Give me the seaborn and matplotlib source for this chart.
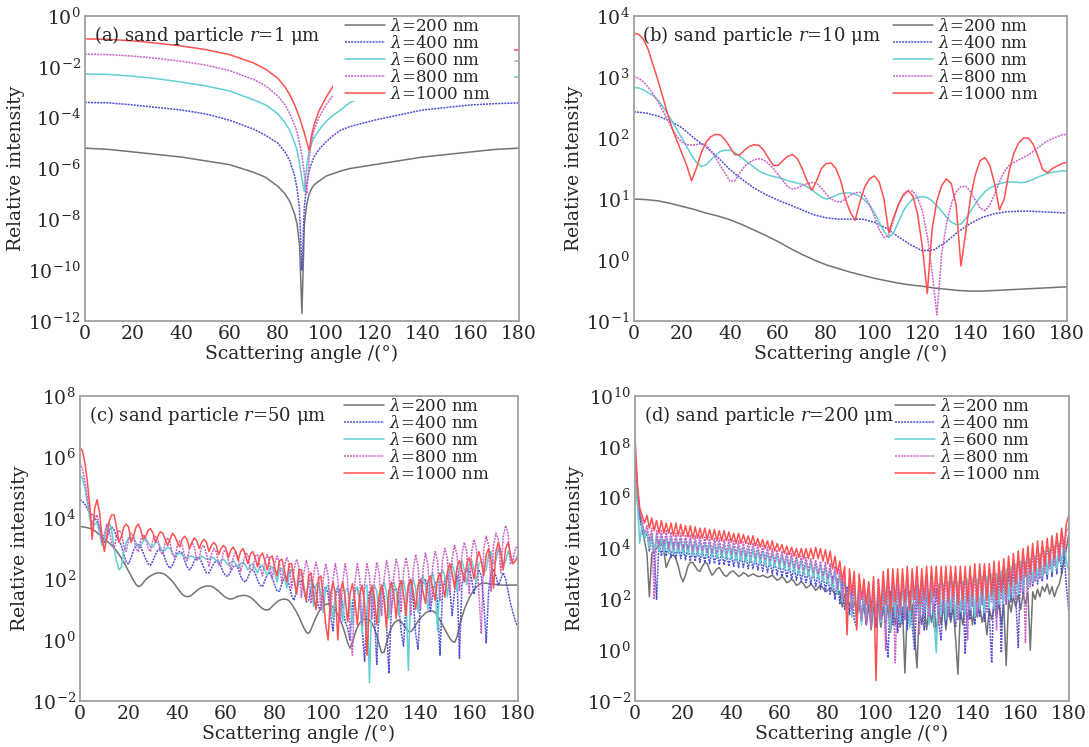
import numpy as np
import pandas as pd
import matplotlib
matplotlib.use('Agg')
import matplotlib.pyplot as plt
from matplotlib.patches import Rectangle
from matplotlib.ticker import NullLocator
import seaborn as sns

# wavelengths in nm, values below are log10(relative intensity)
wavelengths = ['200', '400', '600', '800', '1000']

# ---- (a) r = 1 um ----
ang_a = [0, 10, 20, 30, 40, 50, 60, 70, 75, 80, 83, 85, 87, 88, 89, 90, 91, 92, 93, 94, 95,
         97, 100, 103, 106, 110, 120, 130, 140, 150, 160, 170, 180]
a_200 = [-5.2, -5.25, -5.35, -5.45, -5.55, -5.7, -5.85, -6.15, -6.35, -6.7, -7.0, -7.3, -7.8, -8.2,
         -9.0, -11.7, -8.2, -7.4, -7.0, -6.8, -6.65, -6.5, -6.3, -6.2, -6.1, -6.0, -5.85, -5.7,
         -5.55, -5.45, -5.35, -5.25, -5.2]
a_400 = [-3.4, -3.42, -3.5, -3.6, -3.7, -3.85, -4.1, -4.45, -4.7, -5.0, -5.35, -5.7, -6.3, -6.8,
         -7.6, -10.0, -7.5, -6.6, -6.1, -5.8, -5.55, -5.25, -4.95, -4.7, -4.5, -4.35, -4.1, -3.9,
         -3.7, -3.6, -3.5, -3.45, -3.42]
a_600 = [-2.28, -2.3, -2.37, -2.47, -2.6, -2.75, -2.95, -3.3, -3.5, -3.85, -4.2, -4.5, -5.0, -5.3,
         -5.8, -6.4, -6.9, -5.9, -5.3, -5.0, -4.8, -4.5, -4.15, -3.9, -3.7, -3.4, -3.0, -2.8,
         -2.65, -2.55, -2.47, -2.42, -2.4]
a_800 = [-1.5, -1.52, -1.58, -1.67, -1.78, -1.93, -2.15, -2.5, -2.75, -3.15, -3.5, -3.85, -4.3, -4.6,
         -5.0, -5.5, -6.2, -7.0, -5.6, -4.9, -4.5, -4.0, -3.5, -3.1, -2.85, -2.6, -2.25, -2.05,
         -1.95, -1.87, -1.82, -1.79, -1.77]
a_1000 = [-0.9, -0.92, -0.98, -1.07, -1.18, -1.32, -1.52, -1.85, -2.1, -2.45, -2.8, -3.1, -3.5, -3.75,
          -4.0, -4.3, -4.6, -4.95, -5.3, -4.7, -4.3, -3.75, -3.2, -2.75, -2.45, -2.2, -1.85, -1.65,
          -1.55, -1.45, -1.4, -1.36, -1.34]

# ---- (b) r = 10 um ----
ang_b5 = list(range(0, 181, 5))
b_200 = [1.0, 0.99, 0.97, 0.93, 0.88, 0.83, 0.77, 0.72, 0.66, 0.58, 0.49, 0.4, 0.3, 0.19, 0.09, 0.0,
         -0.08, -0.14, -0.2, -0.25, -0.3, -0.34, -0.38, -0.41, -0.43, -0.46, -0.48, -0.5, -0.51,
         -0.51, -0.5, -0.49, -0.48, -0.47, -0.46, -0.45, -0.44]
b_400 = [2.43, 2.41, 2.36, 2.28, 2.17, 2.0, 1.85, 1.68, 1.48, 1.32, 1.18, 1.07, 0.98, 0.9, 0.82, 0.74,
         0.69, 0.67, 0.67, 0.67, 0.62, 0.52, 0.38, 0.25, 0.15, 0.17, 0.3, 0.47, 0.6, 0.7, 0.76, 0.79,
         0.8, 0.8, 0.79, 0.78, 0.77]
ang_b2 = list(range(0, 181, 2))
b_600 = [2.83, 2.82, 2.79, 2.74, 2.7, 2.62, 2.52, 2.4, 2.27, 2.13,
         2.0, 1.86, 1.72, 1.6, 1.53, 1.56, 1.64, 1.72, 1.78, 1.8,
         1.8, 1.76, 1.7, 1.64, 1.58, 1.52, 1.46, 1.42, 1.39, 1.37,
         1.35, 1.33, 1.3, 1.28, 1.26, 1.24, 1.2, 1.15, 1.09, 1.03,
         1.0, 1.02, 1.06, 1.09, 1.1, 1.1, 1.08, 1.04, 0.98, 0.9,
         0.78, 0.62, 0.47, 0.37, 0.45, 0.62, 0.8, 0.92, 1.0, 1.03,
         1.04, 1.02, 0.97, 0.89, 0.8, 0.7, 0.62, 0.58, 0.59, 0.68,
         0.8, 0.92, 1.03, 1.12, 1.18, 1.22, 1.25, 1.27, 1.28, 1.28,
         1.27, 1.27, 1.29, 1.32, 1.36, 1.39, 1.42, 1.44, 1.45, 1.46,
         1.46]
b_800 = [3.0, 2.98, 2.92, 2.83, 2.72, 2.6, 2.45, 2.3, 2.15, 2.02,
         1.93, 1.89, 1.88, 1.89, 1.91, 1.88, 1.8, 1.68, 1.54, 1.42,
         1.29, 1.3, 1.42, 1.53, 1.6, 1.64, 1.66, 1.64, 1.58, 1.5,
         1.4, 1.3, 1.2, 1.16, 1.18, 1.22, 1.25, 1.27, 1.26, 1.18,
         1.08, 1.0, 0.96, 0.95, 1.0, 1.06, 1.1, 1.11, 1.05, 0.9,
         0.72, 0.5, 0.37, 0.4, 0.65, 0.92, 1.05, 1.12, 1.13, 1.02,
         0.8, 0.4, -0.2, -0.9, 0.1, 0.6, 0.92, 1.12, 1.2, 1.21,
         1.12, 0.98, 0.85, 0.81, 0.9, 1.08, 1.28, 1.45, 1.55, 1.6,
         1.64, 1.68, 1.72, 1.78, 1.84, 1.9, 1.95, 1.99, 2.02, 2.05,
         2.06]
b_1000 = [3.72, 3.7, 3.62, 3.45, 3.2, 2.95, 2.68, 2.4, 2.15, 1.95,
          1.75, 1.55, 1.3, 1.5, 1.75, 1.93, 2.02, 2.06, 2.05, 1.97,
          1.85, 1.73, 1.72, 1.8, 1.86, 1.89, 1.88, 1.8, 1.67, 1.55,
          1.55, 1.63, 1.7, 1.73, 1.66, 1.5, 1.3, 1.14, 1.3, 1.5,
          1.58, 1.59, 1.5, 1.3, 1.0, 0.78, 0.65, 0.95, 1.2, 1.33,
          1.38, 1.28, 1.0, 0.45, 0.7, 0.9, 1.07, 1.14, 1.05, 0.75,
          0.2, -0.55, 0.5, 0.97, 1.22, 1.33, 1.25, 0.9, -0.1, 0.45,
          1.03, 1.4, 1.63, 1.68, 1.55, 1.25, 0.82, 1.0, 1.45, 1.75,
          1.92, 2.0, 2.0, 1.9, 1.7, 1.48, 1.43, 1.5, 1.54, 1.58,
          1.6]

# ---- (c) r = 50 um, read every 1 degree ----
ang_cd = list(range(0, 181))
c_200 = [3.72, 3.71, 3.7, 3.68, 3.66, 3.63, 3.58, 3.52, 3.45, 3.38,
         3.32, 3.25, 3.18, 3.1, 3.02, 2.92, 2.8, 2.68, 2.55, 2.4,
         2.25, 2.1, 1.95, 1.82, 1.75, 1.78, 1.88, 1.98, 2.05, 2.1,
         2.15, 2.18, 2.2, 2.2, 2.18, 2.14, 2.08, 2.0, 1.92, 1.82,
         1.7, 1.6, 1.5, 1.44, 1.42, 1.43, 1.48, 1.55, 1.62, 1.68,
         1.72, 1.75, 1.77, 1.77, 1.76, 1.72, 1.66, 1.6, 1.52, 1.45,
         1.39, 1.35, 1.34, 1.36, 1.4, 1.43, 1.45, 1.46, 1.46, 1.44,
         1.4, 1.34, 1.27, 1.18, 1.1, 1.03, 0.99, 0.98, 1.02, 1.1,
         1.18, 1.25, 1.3, 1.33, 1.34, 1.33, 1.28, 1.18, 1.05, 0.92,
         0.76, 0.58, 0.4, 0.26, 0.21, 0.35, 0.55, 0.74, 0.9, 1.03,
         1.12, 1.17, 1.18, 1.15, 1.08, 0.98, 0.84, 0.66, 0.45, 0.2,
         -0.08, -0.27, -0.1, 0.2, 0.42, 0.56, 0.65, 0.69, 0.69, 0.65,
         0.55, 0.38, 0.15, -0.15, -0.42, -0.4, -0.1, 0.18, 0.4, 0.54,
         0.62, 0.65, 0.6, 0.5, 0.38, 0.28, 0.27, 0.36, 0.5, 0.62,
         0.72, 0.8, 0.88, 0.93, 0.96, 0.95, 0.9, 0.8, 0.66, 0.5,
         0.35, 0.2, 0.06, -0.04, -0.08, 0.1, 0.45, 0.75, 1.0, 1.2,
         1.38, 1.52, 1.64, 1.74, 1.81, 1.85, 1.86, 1.86, 1.85, 1.84,
         1.83, 1.82, 1.81, 1.8, 1.8, 1.8, 1.8, 1.8, 1.8, 1.8,
         1.8]
c_400 = [4.6, 4.55, 4.45, 4.3, 4.2, 4.1, 4.0, 3.9, 3.7, 3.4,
         3.2, 3.3, 3.6, 3.7, 3.6, 3.4, 3.25, 3.1, 2.8, 2.55,
         2.5, 2.7, 2.95, 3.1, 3.15, 3.05, 2.85, 2.65, 2.5, 2.45,
         2.6, 2.8, 2.95, 3.0, 2.9, 2.65, 2.45, 2.35, 2.45, 2.65,
         2.85, 2.9, 2.85, 2.6, 2.4, 2.3, 2.4, 2.6, 2.7, 2.7,
         2.55, 2.35, 2.2, 2.2, 2.35, 2.5, 2.6, 2.55, 2.4, 2.2,
         2.1, 2.1, 2.25, 2.4, 2.45, 2.35, 2.1, 1.95, 1.9, 2.05,
         2.25, 2.3, 2.2, 1.95, 1.8, 1.75, 1.95, 2.15, 2.2, 2.05,
         1.8, 1.6, 1.6, 1.85, 2.05, 2.05, 1.8, 1.45, 1.3, 1.6,
         1.9, 1.95, 1.65, 1.25, 1.3, 1.7, 1.8, 1.6, 1.1, 1.0,
         1.6, 1.75, 1.5, 0.8, 0.3, 1.4, 1.7, 1.6, 1.1, 0.6,
         0.4, 0.0, 1.2, 1.6, 1.7, 1.3, 0.4, -0.7, 1.0, 1.6,
         1.6, 0.9, -0.8, 1.2, 1.7, 1.5, 0.5, -1.1, 1.0, 1.6,
         1.7, 1.2, 0.3, -0.2, 1.2, 1.8, 1.9, 1.3, 0.2, -0.3,
         1.3, 1.9, 2.0, 1.6, 0.9, 1.5, 1.9, 1.2, -0.5, 1.5,
         2.0, 2.1, 1.7, 0.8, 1.6, 2.1, -0.6, 1.8, 2.2, 2.3,
         2.3, 2.0, 1.5, 2.0, 2.3, 2.1, 1.2, -0.1, 1.6, 2.2,
         2.3, 2.1, 1.8, 2.0, 2.2, 2.0, 1.6, 1.2, 0.9, 0.6,
         0.45]
c_600 = [5.4, 5.3, 5.0, 4.5, 4.0, 3.6, 3.8, 3.85, 3.5, 3.1,
         3.3, 3.7, 3.85, 3.6, 3.0, 2.6, 2.3, 2.4, 2.9, 3.2,
         3.35, 3.35, 3.35, 3.2, 3.05, 3.1, 3.25, 3.3, 3.2, 3.05,
         3.05, 3.2, 3.2, 3.05, 2.9, 2.95, 3.05, 3.0, 2.85, 2.75,
         2.8, 2.85, 2.8, 2.7, 2.7, 2.75, 2.75, 2.7, 2.65, 2.7,
         2.75, 2.7, 2.65, 2.65, 2.7, 2.7, 2.6, 2.55, 2.6, 2.65,
         2.55, 2.45, 2.55, 2.6, 2.5, 2.4, 2.5, 2.55, 2.45, 2.3,
         2.45, 2.5, 2.35, 2.2, 2.4, 2.45, 2.3, 2.1, 2.35, 2.4,
         2.2, 1.9, 2.3, 2.35, 2.1, 1.7, 2.2, 2.3, 2.0, 1.5,
         2.1, 2.2, 1.8, 1.3, 1.9, 2.0, 1.1, 1.8, 1.9, 1.5,
         0.9, 1.7, 1.8, 1.3, 0.7, 1.6, 1.75, 1.3, 0.6, 1.6,
         1.7, 1.3, 0.5, 1.6, 1.75, 1.3, 0.2, 1.7, 1.8, -1.4,
         1.5, 1.8, 1.6, 0.6, 1.7, 1.9, 1.6, 0.7, 1.8, 1.9,
         1.6, 0.8, 1.8, 1.95, 1.5, -1.0, 1.8, 2.0, 1.7, 0.9,
         1.9, 2.1, 1.8, 1.0, 2.0, 2.2, 1.8, 0.3, 2.0, 2.3,
         2.1, 1.4, 2.3, 2.5, 2.2, 1.6, 2.4, 2.6, 2.3, 1.8,
         2.5, 2.6, 2.3, 1.9, 2.5, 2.6, 2.2, 2.3, 2.8, 2.9,
         2.5, 2.6, 3.0, 2.8, 2.4, 2.6, 2.9, 2.7, 2.5, 2.6,
         2.8]
c_800 = [5.8, 5.6, 5.2, 4.7, 4.2, 3.8, 4.0, 4.1, 3.7, 3.2,
         3.5, 3.8, 3.6, 3.2, 3.0, 3.4, 3.6, 3.5, 3.1, 2.9,
         3.3, 3.5, 3.4, 3.0, 2.9, 3.3, 3.45, 3.35, 3.0, 2.9,
         3.3, 3.4, 3.3, 2.9, 2.8, 3.2, 3.35, 3.2, 2.8, 2.7,
         3.1, 3.25, 3.1, 2.75, 2.6, 3.0, 3.2, 3.05, 2.6, 2.7,
         3.05, 3.1, 2.8, 2.4, 2.8, 3.0, 2.9, 2.45, 2.5, 2.9,
         2.95, 2.6, 2.3, 2.7, 2.9, 2.7, 2.25, 2.5, 2.85, 2.8,
         2.3, 2.3, 2.75, 2.8, 2.4, 2.1, 2.6, 2.8, 2.5, 2.0,
         2.5, 2.75, 2.5, 1.9, 2.4, 2.7, 2.5, 1.7, 2.3, 2.65,
         2.4, 1.4, 2.2, 2.6, 2.3, 1.2, 2.1, 2.55, 2.2, 1.0,
         2.0, 2.5, 2.1, 0.8, 2.0, 2.5, 2.0, 0.6, 1.9, 2.5,
         2.0, 0.3, -0.5, 1.9, 2.5, 2.0, 0.5, 1.8, 2.5, 2.1,
         0.7, 1.9, 2.55, 2.2, 0.8, 2.0, 2.6, 2.2, 0.9, 2.1,
         2.65, 2.3, 0.9, 2.2, 2.7, 2.3, 0.8, 2.3, 2.8, 2.4,
         1.0, 2.3, 2.85, 2.5, 1.2, 2.4, 2.9, 2.6, 1.3, 2.6,
         3.0, 2.7, 1.5, 2.7, 3.1, 2.8, 1.6, 2.8, 3.2, 2.9,
         1.5, 2.9, 3.3, 3.0, 1.5, 0.2, 3.0, 3.4, 3.1, 1.6,
         3.1, 3.5, 3.3, 2.2, 3.4, 3.75, 3.5, 2.5, 2.6, 3.0,
         3.1]
c_1000 = [6.3, 6.2, 5.8, 5.2, 4.4, 3.3, 4.3, 4.6, 4.2, 3.4,
          2.9, 3.4, 3.9, 4.1, 4.1, 3.7, 3.2, 3.4, 3.7, 3.8,
          3.7, 3.2, 3.4, 3.7, 3.8, 3.6, 3.3, 3.4, 3.6, 3.65,
          3.5, 3.2, 3.4, 3.55, 3.5, 3.3, 3.1, 3.3, 3.5, 3.4,
          3.2, 3.05, 3.3, 3.4, 3.3, 3.0, 3.2, 3.35, 3.25, 3.0,
          3.2, 3.3, 3.2, 2.9, 3.1, 3.2, 3.1, 2.8, 3.0, 3.1,
          3.0, 2.7, 2.95, 3.05, 2.9, 2.6, 2.9, 3.0, 2.8, 2.5,
          2.8, 2.9, 2.7, 2.4, 2.75, 2.85, 2.6, 2.3, 2.7, 2.75,
          2.4, 2.1, 2.6, 2.65, 2.3, 1.9, 2.5, 2.5, 2.0, 1.5,
          2.3, 2.3, 1.7, 1.3, 2.1, 2.2, 1.5, 1.0, 2.0, 2.1,
          1.4, 0.5, 0.0, 1.5, 1.9, 1.5, 0.0, 1.6, 1.9, 1.4,
          0.6, 1.5, 1.85, 1.3, 0.5, 1.5, 1.8, 1.2, -0.5, 1.3,
          1.8, 1.4, 0.5, 1.5, 1.8, 1.3, 0.4, 1.6, 1.9, 1.5,
          0.7, 1.7, 1.95, 1.5, 0.8, 1.8, 2.0, 1.6, 1.0, 1.8,
          2.0, 1.6, 1.2, 1.9, 2.1, 1.7, 1.3, 2.0, 2.2, 1.8,
          1.4, 2.2, 2.5, 2.2, 1.7, 2.4, 2.6, 2.3, 1.9, 2.5,
          2.7, 2.4, 2.0, 2.6, 2.9, 2.6, 2.1, 2.8, 3.0, 2.6,
          1.7, 2.9, 3.2, 2.9, 2.3, 3.0, 3.2, 2.8, 2.5, 2.6,
          2.7]

# ---- (d) r = 200 um, read every 1 degree ----
d_200 = [8.0, 6.3, 5.4, 4.8, 4.3, 3.8, 2.1, 3.8, 3.9, 4.0,
         4.15, 4.2, 3.9, 3.25, 3.5, 3.7, 3.75, 3.6, 3.3, 2.9,
         2.7, 2.95, 3.3, 3.45, 3.45, 3.3, 3.15, 3.1, 3.3, 3.45,
         3.4, 3.15, 2.95, 3.05, 3.2, 3.25, 3.1, 2.95, 2.9, 3.0,
         3.1, 3.1, 3.0, 2.9, 2.95, 3.05, 3.0, 2.9, 2.95, 3.0,
         2.95, 2.9, 2.9, 2.95, 2.9, 2.85, 2.9, 2.95, 2.85, 2.75,
         2.8, 2.9, 2.8, 2.65, 2.7, 2.8, 2.7, 2.55, 2.6, 2.7,
         2.6, 2.45, 2.5, 2.6, 2.5, 2.35, 2.45, 2.55, 2.45, 2.3,
         2.35, 2.45, 2.35, 2.2, 2.25, 2.3, 1.7, 2.2, 2.1, 1.8,
         1.6, 1.9, 1.5, 1.8, 1.2, 1.8, 1.0, 1.8, 0.8, 1.7,
         1.2, 1.8, 0.9, 1.7, 1.1, 1.8, 0.7, 1.7, 1.0, 1.8,
         0.9, 1.7, -0.9, 1.7, 1.0, 1.8, 0.6, -0.7, 1.7, 1.0,
         1.8, 0.8, 1.7, 1.1, 1.8, 0.7, 1.7, 1.0, 1.8, 0.8,
         1.7, 1.1, 1.7, 0.5, -0.95, 1.6, 1.0, 1.7, 1.2, 1.8,
         1.0, 1.7, 1.3, 1.8, 1.1, 1.5, 0.6, 1.6, 1.2, 1.8,
         1.3, 1.9, 1.0, 1.8, -0.6, 2.0, 1.5, 2.1, 1.7, 2.2,
         1.6, 2.2, 1.8, 2.3, 0.0, 2.3, 2.0, 2.4, 2.1, 2.5,
         2.3, 2.6, 2.2, 2.5, 2.1, 2.4, 2.6, 3.0, 3.5, 4.0,
         4.6]
d_400 = [7.0, 5.8, 5.2, 4.7, 4.4, 4.6, 3.9, 4.5, 3.8, 2.0,
         4.3, 3.7, 4.3, 3.7, 4.25, 3.65, 4.2, 3.6, 4.2, 3.6,
         4.15, 3.55, 4.1, 3.5, 4.1, 3.5, 4.05, 3.45, 4.0, 3.45,
         4.0, 3.4, 3.95, 3.4, 3.9, 3.35, 3.9, 3.35, 3.85, 3.3,
         3.85, 3.3, 3.8, 3.25, 3.8, 3.25, 3.75, 3.2, 3.7, 3.2,
         3.7, 3.15, 3.65, 3.1, 3.6, 3.05, 3.55, 3.0, 3.5, 2.95,
         3.45, 2.9, 3.4, 2.85, 3.35, 2.8, 3.3, 2.75, 3.25, 2.7,
         3.2, 2.65, 3.15, 2.6, 3.1, 2.5, 3.05, 2.4, 3.0, 2.3,
         2.95, 2.2, 2.9, 2.0, 2.8, 1.8, 2.7, 1.6, 2.5, 1.4,
         2.4, 1.2, 0.9, 2.3, 1.1, 2.3, 1.0, 2.3, 1.2, 2.3,
         0.9, 2.3, 1.1, 2.3, 0.8, -0.3, 2.3, 1.0, 2.3, 0.7,
         2.3, 1.0, 2.3, 0.8, 2.3, 1.0, 0.0, 2.3, 1.0, 2.3,
         0.8, 2.3, 1.1, 2.4, 0.9, 2.4, 1.1, 0.4, 2.4, 1.0,
         2.4, 1.2, 2.4, 0.9, 2.5, 1.2, 2.5, -0.15, 2.5, 1.2,
         2.6, 1.0, 2.6, 1.3, 2.7, 1.1, 2.7, 1.4, -0.5, 2.8,
         1.5, 2.9, -0.1, 3.0, 1.8, 3.1, 1.9, 3.2, 2.0, 0.1,
         3.3, 2.2, 3.4, 2.4, 3.5, 2.5, 3.6, 2.6, 3.7, 2.7,
         3.8, 2.8, 3.9, 2.9, 4.0, 3.0, 4.1, 3.0, 3.9, 2.5,
         1.5]
d_600 = [7.1, 6.0, 4.2, 5.0, 4.4, 4.7, 4.0, 4.6, 3.9, 4.5,
         3.9, 4.5, 3.85, 4.45, 3.8, 4.45, 3.8, 4.4, 3.8, 4.4,
         3.75, 4.35, 3.75, 4.35, 3.7, 4.3, 3.7, 4.3, 3.7, 4.25,
         3.65, 4.25, 3.65, 4.2, 3.6, 4.2, 3.6, 4.15, 3.55, 4.15,
         3.55, 4.1, 3.5, 4.1, 3.5, 4.05, 3.45, 4.0, 3.45, 4.0,
         3.4, 3.95, 3.4, 3.9, 3.35, 3.85, 3.3, 3.85, 3.25, 3.8,
         3.2, 3.75, 3.15, 3.7, 3.1, 3.65, 3.05, 3.6, 3.0, 3.55,
         2.95, 3.5, 2.9, 3.45, 2.85, 3.4, 2.8, 3.35, 2.7, 3.3,
         2.6, 3.2, 2.4, 3.1, 2.2, 3.0, 1.9, 2.8, 1.6, 2.6,
         1.3, 2.5, 1.2, 2.4, 1.0, 2.4, 1.2, 2.5, 1.0, 2.5,
         1.3, 2.5, 1.1, 2.5, 1.2, 2.5, 0.8, 2.5, 1.3, 2.5,
         1.1, 2.6, 1.3, 2.6, 0.9, 2.6, 1.4, 2.6, 1.2, 2.6,
         1.4, 2.6, 1.0, 2.6, 1.3, -0.1, 2.6, 1.4, 2.6, 1.2,
         2.7, 1.5, 2.7, 1.2, 2.7, 1.5, 2.7, 1.4, 2.8, 1.6,
         2.8, 1.3, 2.8, 1.6, 2.9, 1.5, 2.9, 1.7, 3.0, 1.6,
         3.0, 1.8, 3.1, 1.9, 3.2, 2.0, 3.3, 2.1, 3.4, 2.2,
         3.5, 2.4, 3.5, 2.5, 3.6, 2.7, 3.7, 2.8, 3.8, 2.9,
         3.9, 3.0, 4.0, 3.1, 4.1, 3.2, 4.2, 3.4, 4.3, 3.5,
         3.1]
d_800 = [8.0, 6.4, 5.5, 5.1, 4.6, 4.9, 4.3, 4.8, 2.0, 4.7,
         4.1, 4.7, 4.1, 4.7, 4.0, 4.65, 4.0, 4.6, 4.0, 4.6,
         3.95, 4.55, 3.95, 4.55, 3.9, 4.5, 3.9, 4.5, 3.9, 4.45,
         3.85, 4.45, 3.85, 4.4, 3.85, 4.4, 3.8, 4.35, 3.8, 4.35,
         3.8, 4.3, 3.75, 4.3, 3.75, 4.25, 3.7, 4.25, 3.7, 4.2,
         3.65, 4.15, 3.6, 4.1, 3.55, 4.05, 3.5, 4.0, 3.45, 3.95,
         3.4, 3.9, 3.35, 3.85, 3.3, 3.8, 3.25, 3.75, 3.2, 3.7,
         3.15, 3.65, 3.1, 3.6, 3.05, 3.55, 3.0, 3.5, 2.9, 3.45,
         2.8, 3.4, 2.6, 3.3, 2.4, 3.2, 2.0, 3.0, 1.8, 2.8,
         1.6, 2.7, 1.5, 2.6, 1.2, 2.5, 1.0, 2.6, 0.9, 2.7,
         1.3, 2.8, 1.2, 2.8, 0.0, 2.8, 1.3, 2.8, -0.5, 2.8,
         1.4, 2.8, 1.2, 2.8, 1.5, 2.8, 1.1, 2.9, 0.6, 2.8,
         1.4, 2.9, 1.3, 2.9, 1.5, 2.9, 1.0, 2.9, 1.5, 2.9,
         1.3, 2.9, 1.6, 3.0, 1.2, 3.0, 1.6, 3.0, 0.4, 3.0,
         1.7, 3.0, 1.4, 3.1, 1.8, 3.1, 1.5, 3.2, 1.9, 3.2,
         0.8, 3.3, 2.0, 3.4, 1.8, 3.5, 2.2, 3.5, 2.0, 3.6,
         2.3, 3.7, 0.3, 3.8, 2.5, 3.9, 2.7, 4.0, 2.8, 4.1,
         3.0, 4.2, 3.2, 4.3, 3.3, 4.4, 3.5, 4.5, 3.7, 4.7,
         4.8]
d_1000 = [8.5, 6.6, 5.6, 5.3, 5.0, 5.3, 4.8, 5.2, 4.7, 5.1,
          4.6, 5.1, 4.6, 5.0, 4.6, 5.0, 4.5, 5.0, 4.5, 4.95,
          4.5, 4.9, 4.45, 4.9, 4.4, 4.85, 4.4, 4.8, 4.4, 4.8,
          4.35, 4.75, 4.35, 4.75, 4.3, 4.7, 4.3, 4.7, 4.3, 4.65,
          4.25, 4.6, 4.2, 4.6, 4.2, 4.55, 4.2, 4.5, 4.15, 4.5,
          4.1, 4.4, 4.05, 4.35, 4.0, 4.3, 3.95, 4.3, 3.9, 4.2,
          3.9, 4.15, 3.8, 4.1, 3.75, 4.05, 3.7, 4.0, 3.65, 4.0,
          3.6, 4.0, 3.6, 4.0, 3.6, 4.05, 3.6, 4.0, 3.5, 3.95,
          3.4, 3.9, 3.2, 3.7, 3.0, 3.5, 2.7, 3.3, 0.6, 3.2,
          2.2, 3.1, 0.8, 3.0, 2.0, 2.8, 1.8, 2.7, 1.5, 2.9,
          -1.2, 2.8, 1.6, 3.1, 1.8, 3.2, 1.5, 3.2, 1.9, 3.2,
          1.7, 3.2, 1.9, 3.3, 1.6, 3.2, 2.0, 3.3, 1.8, 3.2,
          2.0, 3.3, 1.7, 3.3, 2.1, 3.3, 1.8, 3.3, 2.0, 3.3,
          1.9, 3.3, 2.1, 3.3, 1.8, 3.3, 2.0, 3.3, 1.9, 3.3,
          2.1, 3.4, 1.9, 3.4, 2.2, 3.4, 2.0, 3.4, 2.2, 3.5,
          2.0, 3.5, 2.3, 3.6, 2.2, 3.7, 2.5, 3.8, 2.6, 3.9,
          2.8, 4.0, 2.9, 4.1, 3.0, 4.2, 3.1, 4.3, 3.2, 4.3,
          3.3, 4.4, 3.4, 4.5, 3.6, 4.6, 3.7, 4.8, 4.0, 5.0,
          5.3]

titles = ['(a) sand particle $r$=1 μm', '(b) sand particle $r$=10 μm',
          '(c) sand particle $r$=50 μm', '(d) sand particle $r$=200 μm']


def panel_frame(angle_lists, value_lists):
    parts = []
    for wl, ang, val in zip(wavelengths, angle_lists, value_lists):
        parts.append(pd.DataFrame({'angle': ang, 'intensity': 10.0 ** np.array(val), 'wl': wl}))
    return pd.concat(parts, ignore_index=True)


frames = [
    panel_frame([ang_a] * 5, [a_200, a_400, a_600, a_800, a_1000]),
    panel_frame([ang_b5, ang_b5, ang_b2, ang_b2, ang_b2], [b_200, b_400, b_600, b_800, b_1000]),
    panel_frame([ang_cd] * 5, [c_200, c_400, c_600, c_800, c_1000]),
    panel_frame([ang_cd] * 5, [d_200, d_400, d_600, d_800, d_1000]),
]
ylims = [(1e-12, 1e0), (1e-1, 1e4), (1e-2, 1e8), (1e-2, 1e10)]
yticks = [range(-12, 1, 2), range(-1, 5), range(-2, 9, 2), range(-2, 11, 2)]

sns.set_theme(style='white')
plt.rcParams['font.family'] = ['DejaVu Serif']
plt.rcParams['mathtext.fontset'] = 'dejavuserif'

palette = {'200': '#737373', '400': '#4d4dd0', '600': '#62cfd2', '800': '#c860c8', '1000': '#ff5050'}
dash_map = {'200': '', '400': (1.3, 0.7), '600': '', '800': (1.3, 0.7), '1000': ''}
labels = [r'$\lambda$=%s nm' % w for w in wavelengths]

fig = plt.figure(figsize=(10.89, 7.47), dpi=100)
boxes = [[0.078, 0.5703, 0.3985, 0.4083], [0.582, 0.5703, 0.3976, 0.4083],
         [0.0735, 0.0616, 0.402, 0.4083], [0.583, 0.0616, 0.3985, 0.4083]]

for i in range(4):
    ax = fig.add_axes(boxes[i])
    sns.lineplot(data=frames[i], x='angle', y='intensity', hue='wl', style='wl',
                 hue_order=wavelengths, style_order=wavelengths, palette=palette,
                 dashes=dash_map, estimator=None, legend=False, linewidth=1.1, ax=ax)
    ax.set_yscale('log')
    ax.set_xlim(0, 180)
    ax.set_ylim(*ylims[i])
    ax.set_xticks(range(0, 181, 20))
    ax.set_yticks([10.0 ** k for k in yticks[i]])
    if i != 1:
        ax.yaxis.set_minor_locator(NullLocator())
    ax.set_xlabel('Scattering angle /(°)', fontsize=13.5, labelpad=1)
    ax.set_ylabel('Relative intensity', fontsize=13.5, labelpad=2)
    ax.tick_params(axis='both', which='both', direction='in', color='#9a9a9a', labelsize=13.5, pad=3)
    ax.tick_params(which='major', length=3, width=0.8)
    ax.tick_params(which='minor', length=2, width=0.6)
    for sp in ax.spines.values():
        sp.set_color('#a0a0a0')
        sp.set_linewidth(1.3)

    if i == 0:
        # the legend box hides the curves behind it in panel (a)
        ax.add_patch(Rectangle((0.572, 0.722), 0.417, 0.273, transform=ax.transAxes,
                               facecolor='white', edgecolor='none', zorder=2.5))

    ax.text(0.02, 0.975, titles[i], transform=ax.transAxes, ha='left', va='top',
            fontsize=13, zorder=4)
    ax.legend(ax.lines[:5], labels, loc='upper right', bbox_to_anchor=(0.935, 0.995),
              frameon=False, fontsize=12, handlelength=2.4, handletextpad=0.3,
              labelspacing=0.0, borderpad=0, borderaxespad=0)

fig.savefig('out.png', dpi=100)
